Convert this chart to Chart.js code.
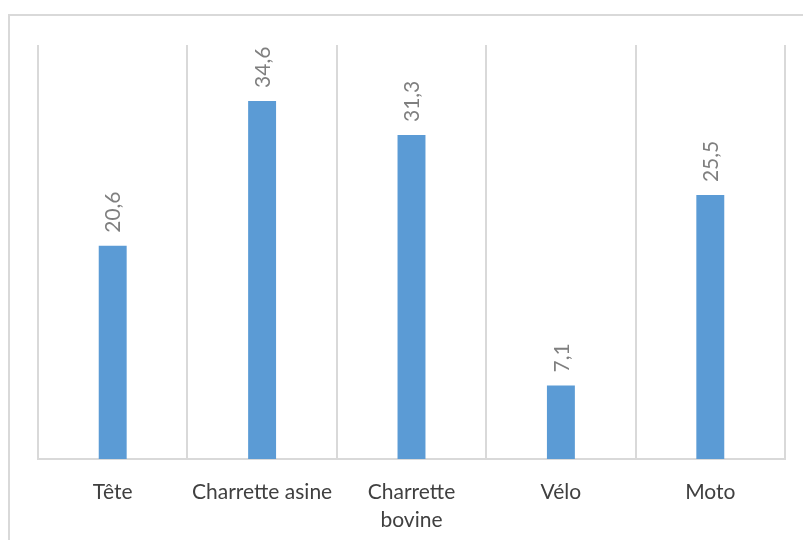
<!DOCTYPE html>
<html>
<head>
<meta charset="utf-8">
<script src="https://cdn.jsdelivr.net/npm/chart.js@4/dist/chart.umd.min.js"></script>
<style>
    html, body { margin: 0; padding: 0; background: #fff; overflow: hidden; }
    #wrap { position: relative; width: 803px; height: 540px; }
    #frame {
        position: absolute;
        left: 8px;
        top: 14px;
        width: 820px;
        height: 560px;
        border: 2px solid #d9d9d9;
    }
    #chart { position: absolute; left: 0; top: 0; }
</style>
</head>
<body>
<div id="wrap">
    <div id="frame"></div>
    <canvas id="chart" width="803" height="540"></canvas>
</div>
<script>
// Data
const categories = ['Tête', 'Charrette asine', ['Charrette', 'bovine'], 'Vélo', 'Moto'];
const values = [20.6, 34.6, 31.3, 7.1, 25.5];
const yMin = 0;
const yMax = 40;

// Rotated value labels above the bars (decimal comma)
const barLabels = {
    id: 'barLabels',
    afterDatasetsDraw(chart) {
        const ctx = chart.ctx;
        const meta = chart.getDatasetMeta(0);
        ctx.save();
        ctx.font = '21px Lato, "DejaVu Sans", sans-serif';
        ctx.fillStyle = '#7f7f7f';
        ctx.textAlign = 'left';
        ctx.textBaseline = 'middle';
        meta.data.forEach(function(bar, i) {
            const text = values[i].toString().replace('.', ',');
            ctx.save();
            ctx.translate(bar.x + 1, bar.y - 13);
            ctx.rotate(-Math.PI / 2);
            ctx.fillText(text, 0, 0);
            ctx.restore();
        });
        ctx.restore();
    }
};

new Chart(document.getElementById('chart'), {
    type: 'bar',
    data: {
        labels: categories,
        datasets: [{
            data: values,
            backgroundColor: '#5b9bd5',
            borderWidth: 0,
            categoryPercentage: 1,
            barPercentage: 0.187
        }]
    },
    options: {
        responsive: false,
        animation: false,
        layout: {
            padding: { left: 38, right: 18, top: 45, bottom: 0 }
        },
        plugins: {
            legend: { display: false },
            tooltip: { enabled: false }
        },
        scales: {
            x: {
                offset: true,
                grid: {
                    offset: true,
                    color: '#d9d9d9',
                    lineWidth: 2,
                    drawTicks: false
                },
                border: { color: '#d9d9d9', width: 2 },
                ticks: {
                    color: '#404040',
                    padding: 19,
                    maxRotation: 0,
                    autoSkip: false,
                    font: { family: 'Lato, "DejaVu Sans", sans-serif', size: 21, lineHeight: 1.33 }
                },
                afterFit: function(scale) { scale.height = 81; }
            },
            y: {
                display: false,
                min: yMin,
                max: yMax
            }
        }
    },
    plugins: [barLabels]
});
</script>
</body>
</html>
